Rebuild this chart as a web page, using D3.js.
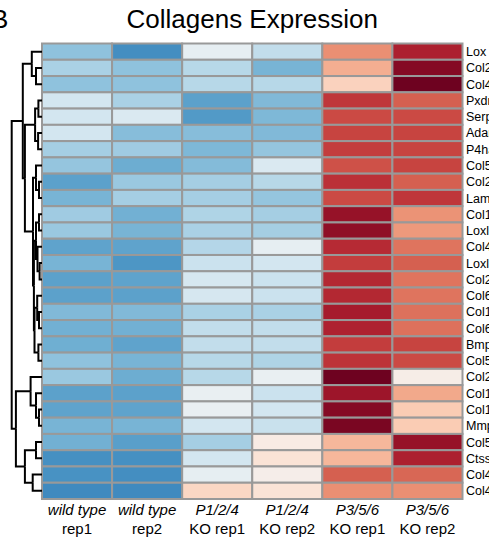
<!DOCTYPE html>
<html>
<head>
<meta charset="utf-8">
<script src="https://cdn.jsdelivr.net/npm/d3@7"></script>
<style>
  body { margin: 0; background: #fff; }
  svg { display: block; font-family: "Liberation Sans", Arial, Helvetica, sans-serif; }
</style>
</head>
<body>
<div id="mainDiv"></div>
<script>
const genes = [
  "Lox", "Col27a1", "Col4a5", "Pxdn", "Serpinh1", "Adamts2", "P4ha1",
  "Col5a1", "Col24a1", "Lamb1", "Col11a1", "Loxl1", "Col4a1", "Loxl2",
  "Col28a1", "Col6a1", "Col16a1", "Col6a2", "Bmp1", "Col5a2", "Col22a1",
  "Col14a1", "Col12a1", "Mmp2", "Col5a3", "Ctss", "Col4a2", "Col4a6",
];

const sampleGroups = ["wild type", "wild type", "P1/2/4", "P1/2/4", "P3/5/6", "P3/5/6"];
const sampleReps = ["rep1", "rep2", "KO rep1", "KO rep2", "KO rep1", "KO rep2"];

// scaled expression, one array per sample (rows in gene order)
const wildTypeRep1 = [
  -0.5, -0.4, -0.5, -0.22, -0.22, -0.22, -0.42, -0.48, -0.68, -0.58, -0.44, -0.46, -0.67, -0.58,
  -0.68, -0.68, -0.55, -0.6, -0.61, -0.5, -0.46, -0.68, -0.67, -0.58, -0.6, -0.77, -0.76, -0.8,
];
const wildTypeRep2 = [
  -0.78, -0.5, -0.5, -0.4, -0.18, -0.53, -0.44, -0.62, -0.46, -0.42, -0.6, -0.58, -0.67, -0.74,
  -0.67, -0.68, -0.55, -0.6, -0.67, -0.58, -0.62, -0.68, -0.67, -0.58, -0.69, -0.77, -0.78, -0.8,
];
const p124Rep1 = [
  -0.1, -0.35, -0.35, -0.68, -0.72, -0.53, -0.56, -0.54, -0.42, -0.42, -0.38, -0.4, -0.36, -0.26,
  -0.2, -0.2, -0.4, -0.3, -0.3, -0.35, -0.35, -0.08, -0.08, -0.22, -0.42, -0.22, -0.1, 0.2,
];
const p124Rep2 = [
  -0.3, -0.58, -0.35, -0.55, -0.56, -0.55, -0.48, -0.18, -0.35, -0.48, -0.42, -0.42, -0.1, -0.22,
  -0.26, -0.26, -0.4, -0.3, -0.3, -0.38, -0.08, -0.26, -0.22, -0.27, 0.07, 0.13, 0.04, 0.13,
];
const p356Rep1 = [
  0.46, 0.36, 0.22, 0.72, 0.66, 0.68, 0.7, 0.64, 0.74, 0.66, 0.87, 0.89, 0.76, 0.7,
  0.77, 0.77, 0.82, 0.79, 0.7, 0.73, 0.98, 0.85, 0.92, 0.95, 0.33, 0.33, 0.6, 0.46,
];
const p356Rep2 = [
  0.8, 0.92, 0.98, 0.6, 0.66, 0.68, 0.68, 0.68, 0.6, 0.72, 0.45, 0.43, 0.54, 0.6,
  0.54, 0.54, 0.55, 0.55, 0.68, 0.66, 0.05, 0.38, 0.25, 0.25, 0.87, 0.8, 0.58, 0.46,
];

const sampleValues = [wildTypeRep1, wildTypeRep2, p124Rep1, p124Rep2, p356Rep1, p356Rep2];

// row clustering: [height, left, right], leaves are row indices
const dendrogram = [10.1,
  [6.4,
    [3.4, 0, [2, 1, 2]],
    [5.7,
      [2.3, [1.2, 3, 4], [1.3, 5, 6]],
      [3,
        [2, 7, [1, 8, 9]],
        [2.7,
          [2, [1, 10, 11], [1.5, 12, [0.8, 13, 14]]],
          [2.5, [1.6, 15, [1, 16, 17]], [1.2, 18, 19]]]]]],
  [8.7,
    [3.8, 20, [2, 21, [1, 22, 23]]],
    [5.7, [2, 24, 25], [3.1, 26, 27]]],
];

const chartSize = {
  width: 489,
  height: 538,
  grid: { left: 42, right: 462.5, top: 43.5, bottom: 499 },
};

const svg = d3.select("#mainDiv")
  .append("svg")
  .attr("width", chartSize.width)
  .attr("height", chartSize.height);

const x = d3.scaleBand()
  .domain(d3.range(sampleValues.length))
  .range([chartSize.grid.left, chartSize.grid.right]);

const y = d3.scaleBand()
  .domain(d3.range(genes.length))
  .range([chartSize.grid.top, chartSize.grid.bottom]);

// the blue side of the palette is not used to its end in the original
const color = d3.scaleLinear()
  .domain([-1, 0, 1])
  .range([0.9, 0.5, 0]);

const cells = [];
sampleValues.forEach((values, col) => {
  values.forEach((v, row) => cells.push({ col, row, v }));
});

svg.append("g")
  .selectAll("rect")
  .data(cells)
  .join("rect")
  .attr("x", d => x(d.col))
  .attr("y", d => y(d.row))
  .attr("width", x.bandwidth())
  .attr("height", y.bandwidth())
  .attr("fill", d => d3.interpolateRdBu(color(d.v)))
  .attr("stroke", "#999")
  .attr("stroke-width", 2);

// gene labels (cut by the page edge like the original)
svg.append("g")
  .selectAll("text")
  .data(genes)
  .join("text")
  .attr("x", chartSize.grid.right + 3.5)
  .attr("y", (d, i) => y(i) + y.bandwidth() / 2)
  .attr("dy", "0.36em")
  .attr("font-size", 12.5)
  .text(d => d);

// sample labels
const sampleLabels = svg.append("g")
  .selectAll("text")
  .data(d3.range(sampleValues.length))
  .join("text")
  .attr("text-anchor", "middle")
  .attr("font-size", 15);

sampleLabels.append("tspan")
  .attr("x", i => x(i) + x.bandwidth() / 2)
  .attr("y", 515)
  .attr("font-style", "italic")
  .text(i => sampleGroups[i]);

sampleLabels.append("tspan")
  .attr("x", i => x(i) + x.bandwidth() / 2)
  .attr("y", 534)
  .text(i => sampleReps[i]);

// dendrogram
const dx = d3.scaleLinear()
  .domain([0, 10])
  .range([chartSize.grid.left, chartSize.grid.left - 30]);

const root = d3.hierarchy(dendrogram, d => Array.isArray(d) ? d.slice(1) : null);
root.eachAfter(node => {
  if (node.children) {
    node.h = node.data[0];
    node.py = d3.mean(node.children, c => c.py);
  } else {
    node.h = 0;
    node.py = y(node.data) + y.bandwidth() / 2;
  }
});

svg.append("g")
  .attr("fill", "none")
  .attr("stroke", "#000")
  .attr("stroke-width", 2)
  .selectAll("path")
  .data(root.links())
  .join("path")
  .attr("d", l => `M${dx(l.source.h)},${l.source.py}V${l.target.py}H${dx(l.target.h)}`);

// title
svg.append("text")
  .attr("x", (chartSize.grid.left + chartSize.grid.right) / 2)
  .attr("y", 28)
  .attr("text-anchor", "middle")
  .attr("font-size", 26)
  .text("Collagens Expression");

svg.append("text")
  .attr("x", -9)
  .attr("y", 28)
  .attr("font-size", 26)
  .text("B");
</script>
</body>
</html>
